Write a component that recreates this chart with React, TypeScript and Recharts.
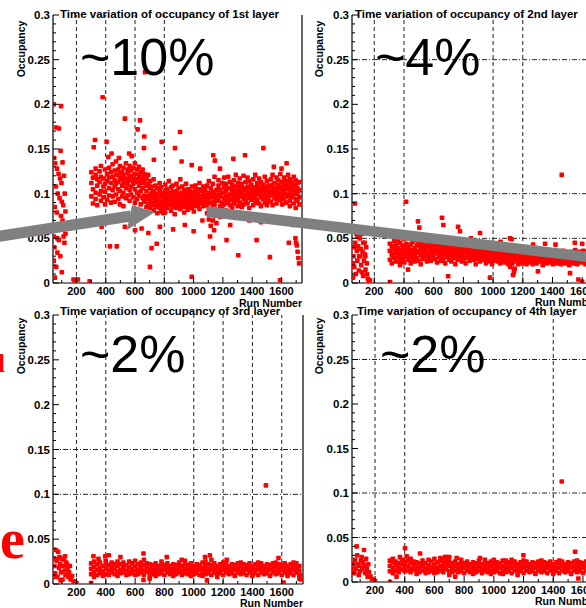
import React from "react";
import { ScatterChart, Scatter, XAxis, YAxis, ReferenceLine } from "recharts";

type Column = [number, number[]];
type Pt = [number, number];

// ---------- Layer 1 (1st layer) ----------
const layer1Band: Column[] = [
  [302, [0.112, 0.097, 0.124]], [313, [0.105, 0.118, 0.089]], [331, [0.121, 0.101, 0.094, 0.128]], [342, [0.109, 0.116, 0.087]],
  [358, [0.125, 0.099, 0.113]], [367, [0.103, 0.092, 0.119, 0.131]], [384, [0.117, 0.108, 0.096]], [395, [0.127, 0.111, 0.088, 0.102]],
  [409, [0.114, 0.122, 0.093]], [422, [0.106, 0.118, 0.129, 0.098]], [436, [0.112, 0.09, 0.124]], [447, [0.119, 0.104, 0.133, 0.097]],
  [461, [0.108, 0.126, 0.115, 0.091]], [470, [0.121, 0.099, 0.111, 0.136]], [486, [0.113, 0.127, 0.094, 0.105]], [497, [0.118, 0.103, 0.131, 0.088, 0.123]],
  [512, [0.109, 0.124, 0.097, 0.116]], [521, [0.129, 0.112, 0.101, 0.121, 0.086]], [538, [0.117, 0.106, 0.134, 0.095]], [549, [0.123, 0.11, 0.098, 0.127, 0.114]],
  [563, [0.104, 0.119, 0.131, 0.092]], [574, [0.126, 0.108, 0.115, 0.099, 0.12]], [588, [0.111, 0.129, 0.096, 0.118]], [599, [0.122, 0.105, 0.134, 0.09, 0.113]],
  [614, [0.116, 0.127, 0.101, 0.094]], [627, [0.109, 0.121, 0.13, 0.098, 0.113]], [639, [0.124, 0.103, 0.117, 0.088]], [652, [0.106, 0.119, 0.095, 0.127, 0.112]],
  [663, [0.114, 0.098, 0.122, 0.091]], [678, [0.103, 0.117, 0.094, 0.109, 0.085]], [690, [0.111, 0.097, 0.121, 0.088]], [703, [0.099, 0.106, 0.084, 0.114, 0.092]],
  [716, [0.095, 0.108, 0.087, 0.101]], [727, [0.103, 0.09, 0.116, 0.081, 0.097]], [741, [0.093, 0.1, 0.085, 0.109]], [752, [0.098, 0.088, 0.106, 0.078, 0.094]],
  [768, [0.091, 0.103, 0.084, 0.112]], [779, [0.096, 0.087, 0.101, 0.08, 0.107]], [794, [0.089, 0.099, 0.093, 0.083]], [806, [0.102, 0.094, 0.086, 0.11, 0.079]],
  [819, [0.097, 0.09, 0.105, 0.084]], [831, [0.092, 0.101, 0.087, 0.096, 0.114]], [846, [0.099, 0.088, 0.107, 0.081]], [858, [0.094, 0.085, 0.102, 0.09, 0.109]],
  [871, [0.087, 0.098, 0.093, 0.077]], [883, [0.103, 0.091, 0.096, 0.084, 0.111]], [897, [0.095, 0.088, 0.106, 0.1]], [909, [0.09, 0.099, 0.083, 0.094, 0.116]],
  [922, [0.101, 0.093, 0.087, 0.108]], [936, [0.096, 0.085, 0.104, 0.091, 0.079]], [948, [0.092, 0.1, 0.088, 0.111]], [961, [0.098, 0.086, 0.094, 0.105, 0.082]],
  [974, [0.089, 0.097, 0.103, 0.093]], [988, [0.101, 0.091, 0.084, 0.108, 0.096]], [1001, [0.094, 0.088, 0.102, 0.08]], [1013, [0.099, 0.092, 0.109, 0.086, 0.104]],
  [1027, [0.093, 0.1, 0.087, 0.097]], [1040, [0.105, 0.09, 0.095, 0.083, 0.112]], [1053, [0.097, 0.089, 0.103, 0.093]], [1066, [0.092, 0.101, 0.086, 0.108, 0.096]],
  [1079, [0.099, 0.09, 0.094, 0.104]], [1092, [0.087, 0.097, 0.109, 0.092, 0.078]], [1104, [0.101, 0.083, 0.095, 0.071, 0.114]], [1117, [0.09, 0.106, 0.077, 0.098, 0.064]],
  [1131, [0.096, 0.085, 0.111, 0.07, 0.102]], [1143, [0.088, 0.099, 0.075, 0.119, 0.093]], [1156, [0.104, 0.082, 0.095, 0.067]], [1170, [0.092, 0.109, 0.079, 0.099, 0.115]],
  [1182, [0.097, 0.086, 0.104, 0.074]], [1196, [0.101, 0.09, 0.112, 0.083]], [1209, [0.095, 0.107, 0.088, 0.118]], [1222, [0.103, 0.092, 0.098, 0.081, 0.111]],
  [1236, [0.09, 0.106, 0.097, 0.119]], [1248, [0.099, 0.087, 0.113, 0.094]], [1263, [0.105, 0.093, 0.084, 0.11, 0.101]], [1275, [0.096, 0.115, 0.089, 0.104]],
  [1288, [0.108, 0.092, 0.099, 0.121]], [1302, [0.094, 0.103, 0.086, 0.112, 0.098]], [1314, [0.101, 0.09, 0.117, 0.107]], [1329, [0.097, 0.111, 0.085, 0.103]],
  [1341, [0.106, 0.094, 0.12, 0.099, 0.088]], [1355, [0.092, 0.104, 0.113, 0.097]], [1368, [0.1, 0.089, 0.108, 0.118]], [1380, [0.095, 0.106, 0.084, 0.102, 0.114]],
  [1395, [0.103, 0.093, 0.11, 0.098]], [1407, [0.098, 0.087, 0.116, 0.105]], [1421, [0.107, 0.095, 0.101, 0.121, 0.09]], [1434, [0.093, 0.104, 0.112, 0.099]],
  [1447, [0.101, 0.089, 0.108, 0.117]], [1460, [0.096, 0.106, 0.086, 0.103, 0.113]], [1474, [0.104, 0.094, 0.11, 0.099]], [1486, [0.099, 0.108, 0.09, 0.119]],
  [1500, [0.106, 0.095, 0.102, 0.114, 0.087]], [1513, [0.097, 0.109, 0.1, 0.092]], [1527, [0.103, 0.091, 0.116, 0.107]], [1539, [0.098, 0.11, 0.087, 0.104, 0.121]],
  [1552, [0.106, 0.095, 0.112, 0.1]], [1566, [0.094, 0.104, 0.118, 0.089]], [1578, [0.101, 0.11, 0.097, 0.115, 0.106]], [1592, [0.108, 0.093, 0.1, 0.122]],
  [1605, [0.096, 0.105, 0.113, 0.088]], [1618, [0.103, 0.11, 0.094, 0.118, 0.1]], [1631, [0.099, 0.107, 0.09, 0.114]], [1645, [0.105, 0.097, 0.112, 0.121]],
  [1657, [0.092, 0.108, 0.1, 0.116, 0.086]], [1671, [0.104, 0.096, 0.113, 0.109]], [1684, [0.099, 0.11, 0.089, 0.119]], [1697, [0.107, 0.094, 0.102, 0.115, 0.084]],
  [1709, [0.1, 0.112, 0.092, 0.106]], [1722, [0.096, 0.104, 0.088, 0.113]],
];
const layer1Extra: Pt[] = [
  [45, 0.2], [95, 0.198], [62, 0.174], [80, 0.173], [92, 0.148], [48, 0.14], [55, 0.134], [67, 0.128], [78, 0.122],
  [88, 0.117], [98, 0.112], [60, 0.108], [72, 0.1], [85, 0.095], [100, 0.091], [110, 0.087], [52, 0.085], [66, 0.079],
  [95, 0.075], [105, 0.07], [118, 0.066], [58, 0.06], [45, 0.052], [80, 0.048], [112, 0.052], [50, 0.04], [70, 0.034],
  [90, 0.03], [45, 0.025], [62, 0.018], [100, 0.012], [52, 0.006], [180, 0.004], [195, 0.003], [210, 0.004], [190, 0.001],
  [290, 0.002], [118, 0.045], [125, 0.055], [120, 0.1], [115, 0.12], [125, 0.08], [105, 0.135], [70, 0.05], [75, 0.065],
  [327, 0.16], [318, 0.152], [379, 0.208], [406, 0.158], [418, 0.141], [440, 0.145], [531, 0.184], [577, 0.142],
  [618, 0.172], [634, 0.182], [663, 0.164], [661, 0.151], [668, 0.236], [729, 0.138], [782, 0.158], [873, 0.151],
  [907, 0.169], [918, 0.136], [987, 0.132], [1045, 0.128], [1134, 0.143], [1145, 0.137], [1180, 0.128], [1271, 0.139],
  [1351, 0.143], [1476, 0.151], [1548, 0.13], [1635, 0.134], [1600, 0.128], [560, 0.145], [490, 0.14],
  [372, 0.063], [429, 0.041], [475, 0.041], [531, 0.063], [566, 0.074], [600, 0.059], [645, 0.061], [691, 0.056],
  [702, 0.018], [713, 0.039], [748, 0.044], [770, 0.063], [793, 0.078], [987, 0.007], [1112, 0.052], [1134, 0.039],
  [1140, 0.059], [1225, 0.048], [1305, 0.031], [1430, 0.048], [1521, 0.029], [1590, 0.003], [1695, 0.05], [1705, 0.042],
  [1710, 0.035], [1715, 0.028], [1720, 0.022], [1700, 0.045], [1650, 0.045], [1680, 0.065], [1250, 0.065], [1380, 0.07],
  [1460, 0.068], [1550, 0.072], [1620, 0.068], [860, 0.06], [940, 0.065], [1000, 0.058], [1060, 0.07],
];

// ---------- Layer 2 (2nd layer) ----------
const layer2Band: Column[] = [
  [305, [0.036, 0.026, 0.044]], [318, [0.031, 0.041, 0.022]], [333, [0.038, 0.028, 0.047, 0.033]], [347, [0.034, 0.043, 0.024]],
  [360, [0.039, 0.029, 0.035, 0.048]], [374, [0.032, 0.045, 0.025]], [389, [0.037, 0.027, 0.042, 0.031]], [402, [0.041, 0.034, 0.023, 0.049]],
  [416, [0.029, 0.038, 0.044]], [430, [0.035, 0.026, 0.04, 0.032]], [445, [0.043, 0.03, 0.037, 0.022]], [458, [0.033, 0.046, 0.027]],
  [472, [0.039, 0.031, 0.036, 0.024]], [486, [0.042, 0.028, 0.034, 0.048]], [499, [0.036, 0.025, 0.044]], [513, [0.031, 0.04, 0.033, 0.021]],
  [527, [0.038, 0.045, 0.027]], [540, [0.034, 0.029, 0.042, 0.036]], [555, [0.04, 0.024, 0.032, 0.047]], [568, [0.035, 0.043, 0.028]],
  [582, [0.031, 0.038, 0.025, 0.041]], [596, [0.037, 0.03, 0.046, 0.033]], [609, [0.042, 0.027, 0.035]], [623, [0.033, 0.039, 0.023, 0.044]],
  [637, [0.036, 0.029, 0.041]], [650, [0.03, 0.045, 0.034, 0.025]], [664, [0.038, 0.032, 0.027, 0.043]], [678, [0.035, 0.041, 0.022]],
  [692, [0.029, 0.037, 0.033, 0.046]], [705, [0.034, 0.026, 0.04]], [719, [0.039, 0.031, 0.024, 0.036]], [733, [0.033, 0.043, 0.028]],
  [746, [0.036, 0.03, 0.039, 0.021]], [760, [0.031, 0.045, 0.034, 0.026]], [774, [0.037, 0.029, 0.041]], [788, [0.033, 0.024, 0.038, 0.035]],
  [801, [0.03, 0.042, 0.027]], [815, [0.035, 0.028, 0.039, 0.022]], [829, [0.032, 0.044, 0.036]], [842, [0.029, 0.037, 0.025, 0.033]],
  [856, [0.034, 0.041, 0.028]], [870, [0.031, 0.026, 0.038, 0.035]], [883, [0.036, 0.029, 0.043, 0.021]], [897, [0.033, 0.039, 0.027]],
  [911, [0.03, 0.035, 0.024, 0.041]], [924, [0.034, 0.028, 0.037]], [938, [0.031, 0.04, 0.026, 0.033]], [952, [0.036, 0.029, 0.022]],
  [965, [0.032, 0.038, 0.027, 0.044]], [979, [0.029, 0.034, 0.024]], [993, [0.033, 0.039, 0.03, 0.021]], [1006, [0.028, 0.036, 0.025]],
  [1020, [0.032, 0.041, 0.027, 0.034]], [1034, [0.03, 0.024, 0.037]], [1047, [0.034, 0.028, 0.039, 0.022]], [1061, [0.031, 0.036, 0.026]],
  [1075, [0.029, 0.033, 0.04, 0.023]], [1088, [0.032, 0.026, 0.037]], [1102, [0.028, 0.035, 0.021, 0.031]], [1116, [0.033, 0.025, 0.018, 0.039]],
  [1129, [0.03, 0.036, 0.022]], [1143, [0.027, 0.032, 0.016, 0.038]], [1156, [0.031, 0.024, 0.035]], [1170, [0.028, 0.033, 0.021, 0.038]],
  [1184, [0.03, 0.025, 0.036]], [1197, [0.027, 0.032, 0.022, 0.034]], [1211, [0.031, 0.024, 0.037]], [1225, [0.028, 0.034, 0.021, 0.03]],
  [1238, [0.026, 0.032, 0.036]], [1252, [0.03, 0.023, 0.034, 0.027]], [1266, [0.028, 0.033, 0.021]], [1279, [0.031, 0.025, 0.036, 0.029]],
  [1293, [0.027, 0.033, 0.022]], [1307, [0.03, 0.024, 0.035, 0.028]], [1320, [0.026, 0.032, 0.037]], [1334, [0.029, 0.023, 0.034, 0.02]],
  [1348, [0.031, 0.027, 0.036]], [1361, [0.028, 0.033, 0.022, 0.03]], [1375, [0.025, 0.031, 0.035]], [1389, [0.029, 0.023, 0.033, 0.027]],
  [1402, [0.027, 0.032, 0.021]], [1416, [0.03, 0.025, 0.035, 0.028]], [1430, [0.026, 0.032, 0.022]], [1443, [0.029, 0.024, 0.034, 0.031]],
  [1457, [0.027, 0.033, 0.021]], [1471, [0.03, 0.025, 0.036, 0.028]], [1484, [0.026, 0.031, 0.022]], [1498, [0.029, 0.024, 0.034, 0.032]],
  [1512, [0.027, 0.033, 0.02]], [1525, [0.03, 0.025, 0.035, 0.028]], [1539, [0.026, 0.032, 0.022]], [1553, [0.029, 0.024, 0.037, 0.031]],
  [1566, [0.027, 0.033, 0.021]], [1580, [0.03, 0.025, 0.035, 0.028]], [1594, [0.026, 0.032, 0.023]], [1607, [0.029, 0.024, 0.036, 0.031]],
  [1621, [0.027, 0.033, 0.021]], [1635, [0.03, 0.025, 0.035]],
];
const layer2Extra: Pt[] = [
  [70, 0.089], [60, 0.03], [65, 0.018], [72, 0.045], [76, 0.01], [82, 0.036], [86, 0.025], [92, 0.041], [96, 0.014],
  [102, 0.05], [106, 0.03], [112, 0.02], [116, 0.055], [121, 0.035], [126, 0.045], [131, 0.025], [136, 0.032],
  [141, 0.015], [146, 0.04], [151, 0.01], [156, 0.005], [162, 0.002], [171, 0.003], [56, 0.006], [58, 0.022],
  [88, 0.052], [98, 0.03], [110, 0.038], [125, 0.008], [140, 0.03], [64, 0.04], [80, 0.055], [150, 0.022],
  [118, 0.012], [135, 0.045], [306, 0.001], [414, 0.091], [494, 0.069], [503, 0.062], [656, 0.073], [665, 0.065],
  [764, 0.063], [777, 0.058], [912, 0.056], [1114, 0.05], [1125, 0.049], [1269, 0.043], [1462, 0.121], [1293, 0.039],
  [373, 0.02], [427, 0.015], [697, 0.0075], [979, 0.006], [1134, 0.009], [1302, 0.013], [1518, 0.011], [1574, 0.004],
  [1599, 0.0015], [1140, 0.012], [1145, 0.016], [600, 0.052], [850, 0.05], [700, 0.05], [1050, 0.046], [1350, 0.044],
  [1420, 0.043], [1550, 0.045], [1600, 0.044],
];

// ---------- Layer 3 (3rd layer) ----------
const layer3Band: Column[] = [
  [300, [0.017, 0.011, 0.023]], [320, [0.019, 0.013, 0.025, 0.008]], [340, [0.016, 0.022, 0.01]], [360, [0.018, 0.012, 0.024, 0.015]],
  [380, [0.02, 0.014, 0.009]], [400, [0.017, 0.023, 0.011, 0.026]], [420, [0.015, 0.021, 0.01]], [440, [0.019, 0.013, 0.024, 0.016]],
  [460, [0.017, 0.022, 0.011]], [480, [0.02, 0.014, 0.025, 0.009]], [500, [0.016, 0.022, 0.012]], [520, [0.018, 0.013, 0.024, 0.02]],
  [540, [0.015, 0.021, 0.01]], [560, [0.019, 0.014, 0.025, 0.011]], [580, [0.017, 0.023, 0.012]], [600, [0.02, 0.015, 0.026, 0.01]],
  [620, [0.016, 0.022, 0.011]], [640, [0.018, 0.013, 0.024, 0.021]], [660, [0.015, 0.021, 0.01, 0.027]], [680, [0.019, 0.014, 0.023]],
  [700, [0.017, 0.012, 0.022, 0.008]], [720, [0.016, 0.021, 0.011]], [740, [0.018, 0.013, 0.023, 0.009]], [760, [0.015, 0.02, 0.011]],
  [780, [0.017, 0.022, 0.012, 0.025]], [800, [0.016, 0.021, 0.01]], [820, [0.018, 0.013, 0.023, 0.019]], [840, [0.015, 0.02, 0.011]],
  [860, [0.017, 0.022, 0.012, 0.009]], [880, [0.016, 0.021, 0.011]], [900, [0.018, 0.013, 0.024, 0.02]], [920, [0.015, 0.02, 0.01]],
  [940, [0.017, 0.022, 0.012, 0.026]], [960, [0.016, 0.021, 0.011]], [980, [0.018, 0.013, 0.023, 0.009]], [1000, [0.015, 0.02, 0.011]],
  [1020, [0.017, 0.022, 0.012, 0.019]], [1040, [0.016, 0.021, 0.01]], [1060, [0.018, 0.013, 0.024, 0.009]], [1080, [0.015, 0.02, 0.011, 0.025]],
  [1100, [0.017, 0.022, 0.012]], [1120, [0.016, 0.021, 0.01, 0.027]], [1140, [0.018, 0.013, 0.023]], [1160, [0.015, 0.02, 0.011, 0.008]],
  [1180, [0.017, 0.022, 0.012]], [1200, [0.016, 0.021, 0.01, 0.024]], [1220, [0.018, 0.013, 0.023]], [1240, [0.015, 0.02, 0.011, 0.019]],
  [1260, [0.017, 0.022, 0.012]], [1280, [0.016, 0.021, 0.01, 0.009]], [1300, [0.018, 0.013, 0.023]], [1320, [0.015, 0.02, 0.011, 0.024]],
  [1340, [0.017, 0.022, 0.012]], [1360, [0.016, 0.021, 0.01, 0.019]], [1380, [0.018, 0.013, 0.023]], [1400, [0.015, 0.02, 0.011, 0.009]],
  [1420, [0.017, 0.022, 0.012]], [1440, [0.016, 0.021, 0.01, 0.024]], [1460, [0.018, 0.013, 0.023]], [1480, [0.015, 0.02, 0.011, 0.019]],
  [1500, [0.017, 0.022, 0.012]], [1520, [0.016, 0.021, 0.01, 0.009]], [1540, [0.018, 0.013, 0.023]], [1560, [0.015, 0.02, 0.011, 0.024]],
  [1580, [0.017, 0.022, 0.012]], [1600, [0.016, 0.021, 0.01, 0.019]], [1620, [0.018, 0.013, 0.023]], [1640, [0.015, 0.02, 0.011, 0.009]],
  [1660, [0.017, 0.022, 0.012]], [1680, [0.016, 0.021, 0.01, 0.024]], [1700, [0.018, 0.013, 0.023]], [1720, [0.015, 0.02, 0.01, 0.006]],
];
const layer3Extra: Pt[] = [
  [60, 0.038], [75, 0.036], [50, 0.02], [55, 0.012], [65, 0.026], [70, 0.008], [80, 0.018], [85, 0.03], [90, 0.022],
  [95, 0.013], [100, 0.028], [105, 0.005], [110, 0.02], [115, 0.027], [120, 0.015], [125, 0.01], [130, 0.024],
  [140, 0.018], [145, 0.008], [150, 0.013], [160, 0.005], [170, 0.009], [180, 0.003], [190, 0.002], [200, 0.001],
  [45, 0.008], [58, 0.028], [92, 0.004], [135, 0.022], [155, 0.02], [122, 0.031],
  [300, 0.001], [316, 0.031], [396, 0.031], [657, 0.034], [816, 0.03], [918, 0.027], [1077, 0.03], [1225, 0.027],
  [1578, 0.029], [1492, 0.11], [657, 0.0045], [700, 0.006], [1090, 0.004], [1612, 0.0015], [1730, 0.005],
  [1725, 0.01], [500, 0.03], [420, 0.032], [350, 0.028], [1110, 0.032],
];

// ---------- Layer 4 (4th layer) ----------
const layer4Band: Column[] = [
  [300, [0.018, 0.012, 0.024]], [320, [0.016, 0.022, 0.01, 0.026]], [340, [0.019, 0.013, 0.023]], [360, [0.017, 0.021, 0.011, 0.015]],
  [380, [0.02, 0.014, 0.025]], [400, [0.016, 0.022, 0.012, 0.019]], [420, [0.018, 0.013, 0.024]], [440, [0.015, 0.021, 0.011, 0.026]],
  [460, [0.019, 0.014, 0.023]], [480, [0.017, 0.022, 0.012, 0.009]], [500, [0.016, 0.021, 0.011]], [520, [0.018, 0.013, 0.024, 0.02]],
  [540, [0.015, 0.021, 0.01]], [560, [0.019, 0.014, 0.025, 0.011]], [580, [0.017, 0.023, 0.012]], [600, [0.02, 0.015, 0.026, 0.01]],
  [620, [0.016, 0.022, 0.011]], [640, [0.018, 0.013, 0.024, 0.027]], [660, [0.02, 0.015, 0.025, 0.011]], [680, [0.019, 0.014, 0.024, 0.028]],
  [700, [0.018, 0.012, 0.023, 0.008]], [720, [0.016, 0.021, 0.011]], [740, [0.018, 0.013, 0.023, 0.006]], [760, [0.015, 0.02, 0.011]],
  [780, [0.017, 0.022, 0.012, 0.025]], [800, [0.016, 0.021, 0.01]], [820, [0.018, 0.013, 0.023, 0.019]], [840, [0.015, 0.02, 0.011]],
  [860, [0.017, 0.022, 0.012, 0.009]], [880, [0.016, 0.021, 0.011]], [900, [0.018, 0.013, 0.024, 0.02]], [920, [0.015, 0.02, 0.01]],
  [940, [0.017, 0.022, 0.012, 0.025]], [960, [0.016, 0.021, 0.011]], [980, [0.018, 0.013, 0.023, 0.009]], [1000, [0.015, 0.02, 0.011]],
  [1020, [0.017, 0.022, 0.012, 0.019]], [1040, [0.016, 0.021, 0.01]], [1060, [0.018, 0.013, 0.024, 0.009]], [1080, [0.015, 0.02, 0.011, 0.024]],
  [1100, [0.017, 0.022, 0.012]], [1120, [0.016, 0.021, 0.01, 0.025]], [1140, [0.018, 0.013, 0.023]], [1160, [0.015, 0.02, 0.011, 0.008]],
  [1180, [0.017, 0.022, 0.012]], [1200, [0.016, 0.021, 0.01, 0.024]], [1220, [0.018, 0.013, 0.023]], [1240, [0.015, 0.02, 0.011, 0.019]],
  [1260, [0.017, 0.022, 0.012]], [1280, [0.016, 0.021, 0.01, 0.009]], [1300, [0.018, 0.013, 0.023]], [1320, [0.015, 0.02, 0.011, 0.024]],
  [1340, [0.017, 0.022, 0.012]], [1360, [0.016, 0.021, 0.01, 0.019]], [1380, [0.018, 0.013, 0.023]], [1400, [0.015, 0.02, 0.011, 0.009]],
  [1420, [0.017, 0.022, 0.012]], [1440, [0.016, 0.021, 0.01, 0.024]], [1460, [0.018, 0.013, 0.023]], [1480, [0.015, 0.02, 0.011, 0.019]],
  [1500, [0.017, 0.022, 0.012]], [1520, [0.016, 0.021, 0.01, 0.009]], [1540, [0.018, 0.013, 0.023]], [1560, [0.015, 0.02, 0.011, 0.024]],
  [1580, [0.017, 0.022, 0.012]], [1600, [0.016, 0.021, 0.01, 0.019]], [1620, [0.018, 0.013, 0.023]], [1640, [0.015, 0.02, 0.011, 0.009]],
];
const layer4Extra: Pt[] = [
  [76, 0.04], [126, 0.036], [55, 0.02], [60, 0.01], [65, 0.025], [70, 0.015], [80, 0.03], [85, 0.02], [90, 0.008],
  [95, 0.018], [100, 0.012], [105, 0.024], [110, 0.028], [115, 0.015], [120, 0.022], [130, 0.018], [135, 0.01],
  [140, 0.026], [145, 0.015], [150, 0.006], [155, 0.02], [160, 0.011], [170, 0.006], [180, 0.003], [190, 0.002],
  [50, 0.015], [200, 0.001], [301, 0.0], [402, 0.038], [413, 0.029], [503, 0.032], [368, 0.028], [671, 0.028],
  [750, 0.027], [907, 0.027], [1199, 0.03], [1457, 0.113], [1547, 0.034], [1569, 0.004], [330, 0.012], [345, 0.006],
  [700, 0.028], [1000, 0.025],
];

// ---------- Axes / labels ----------
const xMajorTicks = [200, 400, 600, 800, 1000, 1200, 1400, 1600];
const xMinorTicks = [100, 300, 500, 700, 900, 1100, 1300, 1500, 1700];
const yMajorTicks = [0, 0.05, 0.1, 0.15, 0.2, 0.25, 0.3];
const yMajorLabels = ["0", "0.05", "0.1", "0.15", "0.2", "0.25", "0.3"];
const yMinorTicks = [0.01, 0.02, 0.03, 0.04, 0.06, 0.07, 0.08, 0.09, 0.11, 0.12, 0.13, 0.14, 0.16, 0.17, 0.18, 0.19, 0.21, 0.22, 0.23, 0.24, 0.26, 0.27, 0.28, 0.29];
const panelTitles = [
  "Time variation of occupancy of 1st layer",
  "Time variation of occupancy of 2nd layer",
  "Time variation of occupancy of 3rd layer",
  "Time variation of occupancy of 4th layer",
];
const occupancyNotes = ["~10%", "~4%", "~2%", "~2%"];
const xAxisTitle = "Run Number";
const yAxisTitle = "Occupancy";

const FONT = "'Liberation Sans', Arial, Helvetica, sans-serif";
const RED = "#ff0000";

const toPoints = (band: Column[], extra: Pt[]) => [
  ...band.flatMap(([run, occs]) => occs.map((occ) => ({ run, occ }))),
  ...extra.map(([run, occ]) => ({ run, occ })),
];

const DotShape = (p: any) =>
  p.cx == null || p.cy == null ? <g /> : (
    <rect x={p.cx - 2.3} y={p.cy - 2.3} width={4.6} height={4.6} rx={0.8} fill={RED} />
  );

type PanelProps = {
  left: number; top: number; width: number; height: number;
  plotLeft: number; plotTop: number; plotBottom: number; plotRight: number;
  xDomain: [number, number];
  data: { run: number; occ: number }[];
  vLines: number[]; hLines: number[];
};

function Panel({ left, top, width, height, plotLeft, plotTop, plotBottom, plotRight, xDomain, data, vLines, hLines }: PanelProps) {
  const xAxisH = 20;
  const yAxisW = plotLeft - left;
  const pb = plotBottom - top;
  const pl = plotLeft - left;
  const xTicks = [...xMajorTicks, ...xMinorTicks].sort((a, b) => a - b);
  const yTicks = [...yMajorTicks, ...yMinorTicks].sort((a, b) => a - b);
  const renderXTick = (props: any) => {
    const x = props.x;
    const v = props.payload.value;
    const major = xMajorTicks.includes(v);
    return (
      <g>
        <line x1={x} x2={x} y1={pb} y2={pb - (major ? 6 : 3)} stroke="#000" strokeWidth={1} />
        {major && (
          <text x={x} y={pb + 11.5} textAnchor="middle" fontSize={11} fontWeight="bold" fontFamily={FONT} fill="#000">
            {v}
          </text>
        )}
      </g>
    );
  };
  const renderYTick = (props: any) => {
    const y = props.y;
    const v = props.payload.value;
    const idx = yMajorTicks.indexOf(v);
    const major = idx >= 0;
    return (
      <g>
        <line x1={pl} x2={pl + (major ? 6 : 3)} y1={y} y2={y} stroke="#000" strokeWidth={1} />
        {major && (
          <text x={pl - 3} y={y + 4} textAnchor="end" fontSize={11.5} fontWeight="bold" fontFamily={FONT} fill="#000">
            {yMajorLabels[idx]}
          </text>
        )}
      </g>
    );
  };
  return (
    <div style={{ position: "absolute", left, top, width, height }}>
      <ScatterChart
        width={width}
        height={height}
        margin={{ top: plotTop - top, right: left + width - plotRight, bottom: top + height - plotBottom - xAxisH, left: 0 }}
      >
        <XAxis
          type="number" dataKey="run" domain={xDomain} allowDataOverflow ticks={xTicks} interval={0}
          height={xAxisH} tickLine={false} axisLine={{ stroke: "#000", strokeWidth: 1.2 }} tick={renderXTick}
        />
        <YAxis
          type="number" dataKey="occ" domain={[0, 0.3]} allowDataOverflow ticks={yTicks} interval={0}
          width={yAxisW} tickLine={false} axisLine={{ stroke: "#000", strokeWidth: 1.2 }} tick={renderYTick}
        />
        {vLines.map((v) => (
          <ReferenceLine key={"v" + v} x={v} stroke="#222" strokeWidth={1} strokeDasharray="4 3" />
        ))}
        {hLines.map((h) => (
          <ReferenceLine key={"h" + h} y={h} stroke="#222" strokeWidth={1} strokeDasharray="5 2 1 2" />
        ))}
        <ReferenceLine x={xDomain[1]} stroke="#000" strokeWidth={1.2} />
        <Scatter data={data} isAnimationActive={false} shape={DotShape} />
      </ScatterChart>
    </div>
  );
}

export default function App() {
  const bold = { fontFamily: FONT, fontWeight: "bold" as const, fill: "#000" };
  return (
    <div style={{ position: "absolute", left: 0, top: 0, width: 586, height: 608, overflow: "hidden", background: "#fff" }}>
      <Panel left={0} top={0} width={310} height={305} plotLeft={53} plotTop={15} plotBottom={283} plotRight={302}
        xDomain={[40, 1740]} data={toPoints(layer1Band, layer1Extra)} vLines={[200, 400, 600, 800]} hLines={[]} />
      <Panel left={300} top={0} width={320} height={305} plotLeft={352} plotTop={15} plotBottom={283} plotRight={604.5}
        xDomain={[50, 1750]} data={toPoints(layer2Band, layer2Extra)} vLines={[200, 400, 1000, 1200]} hLines={[0.25, 0.1, 0.05]} />
      <Panel left={0} top={300} width={310} height={305} plotLeft={53} plotTop={315} plotBottom={584} plotRight={303}
        xDomain={[40, 1745]} data={toPoints(layer3Band, layer3Extra)} vLines={[200, 400, 1000, 1200, 1400, 1600]} hLines={[0.15, 0.1]} />
      <Panel left={300} top={300} width={320} height={305} plotLeft={352} plotTop={315} plotBottom={582} plotRight={604.5}
        xDomain={[45, 1745]} data={toPoints(layer4Band, layer4Extra)} vLines={[200, 400, 1400]} hLines={[0.25, 0.1, 0.05]} />

      <svg width={586} height={608} style={{ position: "absolute", left: 0, top: 0, pointerEvents: "none" }}>
        {/* titles */}
        <text x={60} y={18} fontSize={11.5} {...bold}>{panelTitles[0]}</text>
        <text x={355} y={18} fontSize={11.5} {...bold}>{panelTitles[1]}</text>
        <text x={60} y={315} fontSize={11.5} {...bold}>{panelTitles[2]}</text>
        <text x={357} y={315} fontSize={11.5} {...bold}>{panelTitles[3]}</text>
        {/* y axis titles */}
        {[[21, 49], [319, 49], [21, 346], [319, 346]].map(([x, y], i) => (
          <text key={"occ" + i} x={x} y={y} fontSize={10.5} {...bold} textAnchor="middle" dominantBaseline="central"
            transform={`rotate(-90 ${x} ${y})`}>{yAxisTitle}</text>
        ))}
        {/* x axis titles */}
        <text x={302} y={307} fontSize={10.5} {...bold} textAnchor="end">{xAxisTitle}</text>
        <text x={535} y={306} fontSize={10.5} {...bold}>{xAxisTitle}</text>
        <text x={303} y={607} fontSize={10.5} {...bold} textAnchor="end">{xAxisTitle}</text>
        <text x={535} y={605} fontSize={10.5} {...bold}>{xAxisTitle}</text>
        {/* big notes */}
        <text x={80} y={75} fontSize={52} fontFamily={FONT} fill="#000">{occupancyNotes[0]}</text>
        <text x={375} y={75} fontSize={52} fontFamily={FONT} fill="#000">{occupancyNotes[1]}</text>
        <text x={80} y={372} fontSize={52} fontFamily={FONT} fill="#000">{occupancyNotes[2]}</text>
        <text x={380} y={372} fontSize={52} fontFamily={FONT} fill="#000">{occupancyNotes[3]}</text>
        {/* arrows */}
        <line x1={-6} y1={237} x2={131} y2={216} stroke="#808080" strokeWidth={11} />
        <polygon points="132,205 127,230 155,212" fill="#808080" />
        <line x1={207} y1={211.5} x2={600} y2={258.5} stroke="#808080" strokeWidth={10.5} />
        {/* partial red slide letters */}
        <text x={-2} y={372} fontSize={25} fontFamily="'Liberation Serif', 'Times New Roman', serif" fontWeight="bold" fill={RED}>l</text>
        <text x={0} y={558} fontSize={56} fontFamily="'Liberation Serif', 'Times New Roman', serif" fontWeight="bold" fill={RED}>e</text>
      </svg>
    </div>
  );
}
